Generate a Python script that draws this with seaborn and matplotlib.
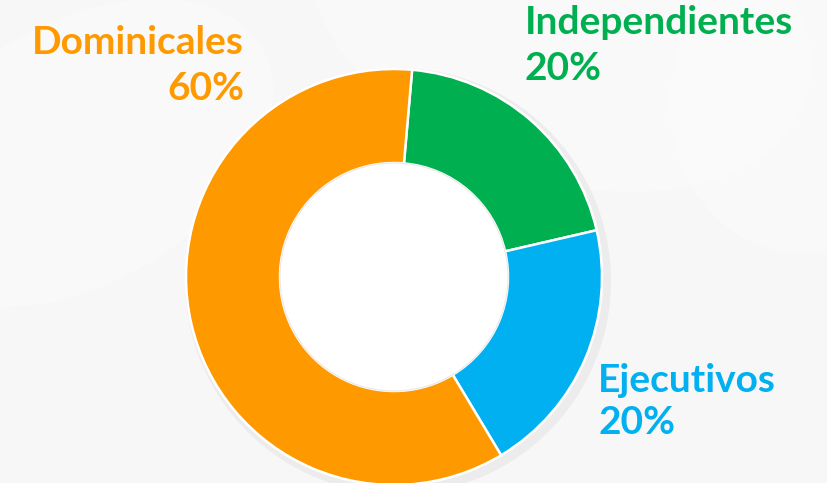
import matplotlib
matplotlib.use("Agg")
import matplotlib.pyplot as plt
import seaborn as sns
from matplotlib.patches import Ellipse

# data
labels = ["Independientes", "Ejecutivos", "Dominicales"]
values = [20, 20, 60]
pct_labels = ["20%", "20%", "60%"]
colors = ["#00B050", "#00B0F0", "#FF9900"]

sns.set_theme(style="white")
plt.rcParams['font.family'] = ['Lato', 'DejaVu Sans']

fig = plt.figure(figsize=(8.27, 4.83), dpi=100)
fig.patch.set_facecolor("#f7f7f7")
ax = fig.add_axes([0, 0, 1, 1])
ax.set_facecolor("#f7f7f7")

# soft background swooshes
ax.add_patch(Ellipse((560, 470), 520, 330, angle=-20, color="white", alpha=0.35, zorder=0, lw=0))
ax.add_patch(Ellipse((80, 330), 420, 260, angle=30, color="white", alpha=0.3, zorder=0, lw=0))
ax.add_patch(Ellipse((800, 380), 260, 300, angle=0, color="white", alpha=0.3, zorder=0, lw=0))

# faint shadow behind the ring
ax.add_patch(Ellipse((398, 202), 426, 426, color="#e8e8e8", alpha=0.7, zorder=1, lw=0))

wedges, _ = ax.pie(values, colors=colors, startangle=85, counterclock=False,
                   center=(394, 206), radius=208, frame=True,
                   wedgeprops=dict(width=94, edgecolor="white", linewidth=1.8))
for w in wedges:
    w.set_zorder(2)
ax.add_patch(Ellipse((394, 206), 228, 228, color="white", zorder=3, lw=0.8, ec="#e8e8e8"))

ax.set_xlim(0, 827)
ax.set_ylim(0, 483)
ax.set_aspect("auto")
ax.axis("off")

fs = 28
# Dominicales
ax.text(244, 441, labels[2], color=colors[2], fontsize=fs, fontweight="bold", ha="right", va="center")
ax.text(244, 395, pct_labels[2], color=colors[2], fontsize=fs, fontweight="bold", ha="right", va="center")
# Independientes
ax.text(525, 461, labels[0], color=colors[0], fontsize=fs, fontweight="bold", ha="left", va="center")
ax.text(525, 415, pct_labels[0], color=colors[0], fontsize=fs, fontweight="bold", ha="left", va="center")
# Ejecutivos
ax.text(598, 102, labels[1], color=colors[1], fontsize=fs, fontweight="bold", ha="left", va="center")
ax.text(598, 60, pct_labels[1], color=colors[1], fontsize=fs, fontweight="bold", ha="left", va="center")

fig.savefig("out.png", dpi=100, facecolor=fig.get_facecolor())
